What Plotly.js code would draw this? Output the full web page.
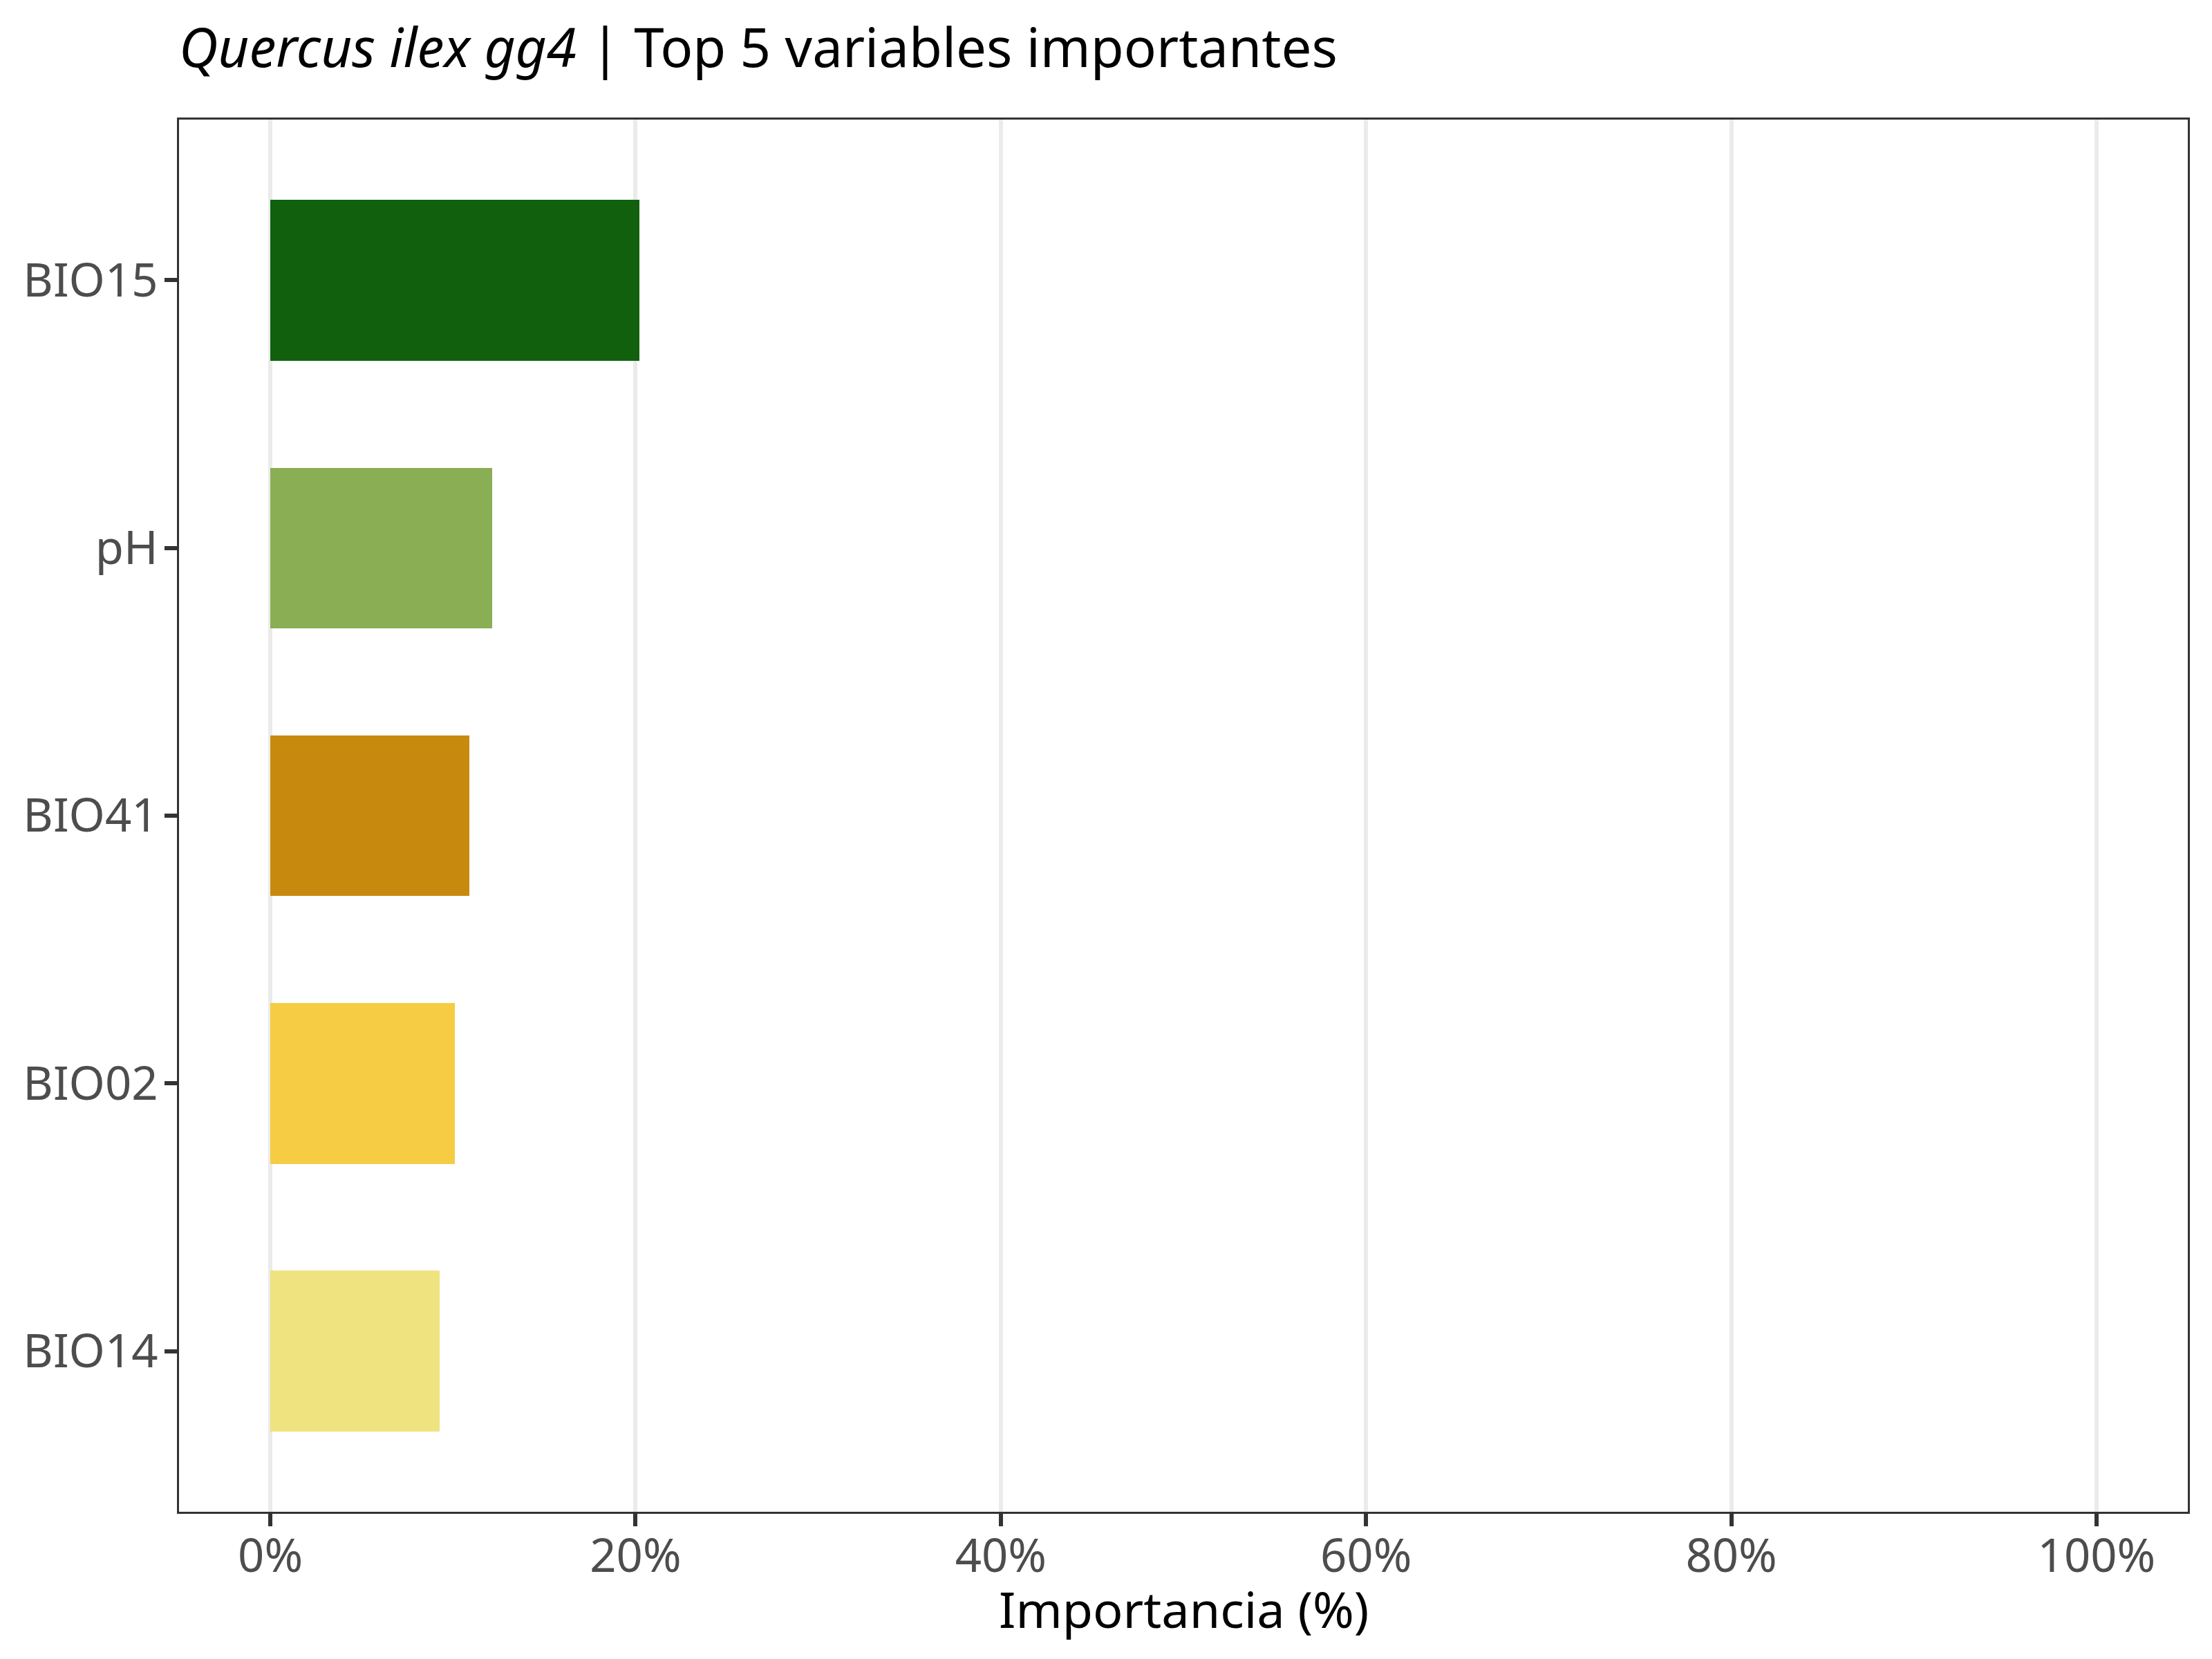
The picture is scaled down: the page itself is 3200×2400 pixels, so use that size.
<!DOCTYPE html>
<html>
<head>
<meta charset="utf-8">
<script src="https://cdn.plot.ly/plotly-3.0.1.min.js"></script>
<style>
  html, body { margin: 0; padding: 0; background: #fff; }
  #chart { width: 3200px; height: 2400px; }
</style>
</head>
<body>
<div id="chart"></div>
<script>
// bottom to top, as plotly draws categories
var variables = ['BIO14', 'BIO02', 'BIO41', 'pH', 'BIO15'];
var importance = [9.27, 10.09, 10.89, 12.13, 20.2];
var barColors = ['#EFE380', '#F6CC44', '#C88A0E', '#8AAE54', '#10600E'];
var xTicks = [0, 20, 40, 60, 80, 100];

var trace = {
  type: 'bar',
  orientation: 'h',
  x: importance,
  y: variables,
  width: 0.6,
  marker: { color: barColors, line: { width: 0 } },
  hoverinfo: 'x+y'
};

var tickFont = { family: 'Noto Sans, sans-serif', size: 67, color: '#4D4D4D' };

var layout = {
  width: 3200,
  height: 2400,
  margin: { l: 259, r: 35, t: 173, b: 213 },
  paper_bgcolor: '#ffffff',
  plot_bgcolor: '#ffffff',
  showlegend: false,
  bargap: 0,
  title: {
    text: '<i>Quercus ilex gg4</i> | Top 5 variables importantes',
    font: { family: 'Noto Sans, sans-serif', size: 78, color: '#000000' },
    xref: 'paper',
    x: 0,
    xanchor: 'left',
    yref: 'container',
    y: 0.971,
    yanchor: 'middle'
  },
  xaxis: {
    range: [-5, 105],
    tickvals: xTicks,
    ticktext: xTicks.map(function (v) { return v + '%'; }),
    ticks: 'outside',
    ticklen: 18,
    tickwidth: 6,
    tickcolor: '#333333',
    tickfont: tickFont,
    ticklabelstandoff: -14,
    showgrid: true,
    gridcolor: '#EBEBEB',
    gridwidth: 6,
    zeroline: false,
    showline: true,
    linecolor: '#333333',
    linewidth: 3,
    mirror: true
  },
  yaxis: {
    type: 'category',
    range: [-0.6, 4.6],
    ticks: 'outside',
    ticklen: 18,
    tickwidth: 6,
    tickcolor: '#333333',
    tickfont: tickFont,
    ticklabelstandoff: -4,
    showgrid: false,
    zeroline: false,
    showline: true,
    linecolor: '#333333',
    linewidth: 3,
    mirror: true
  },
  // x axis title, placed as an annotation to sit at the reference height
  annotations: [{
    text: 'Importancia (%)',
    xref: 'paper',
    yref: 'paper',
    x: 0.5,
    y: -0.0695,
    xanchor: 'center',
    yanchor: 'middle',
    showarrow: false,
    font: { family: 'Noto Sans, sans-serif', size: 72, color: '#000000' }
  }]
};

Plotly.newPlot('chart', [trace], layout, { displayModeBar: false, staticPlot: true });
</script>
</body>
</html>
